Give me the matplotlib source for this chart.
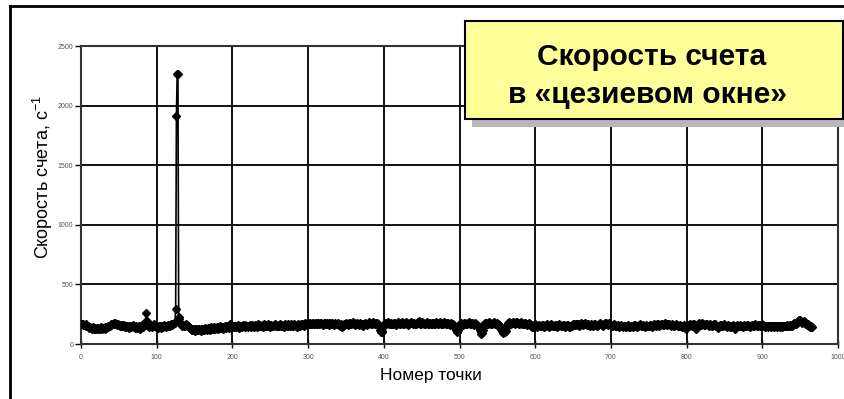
import numpy as np
import matplotlib
matplotlib.use("Agg")
import matplotlib.pyplot as plt
from matplotlib.patches import Rectangle
from matplotlib.lines import Line2D

plt.rcParams['font.family'] = ['Liberation Sans', 'DejaVu Sans']
plt.rcParams['mathtext.fontset'] = 'custom'
plt.rcParams['mathtext.rm'] = 'Liberation Sans'

title_lines = ["Скорость счета", "в «цезиевом окне»"]
x_label = "Номер точки"
y_label = "Скорость счета, с$^{\\mathregular{-1}}$"
x_ticks = [0, 100, 200, 300, 400, 500, 600, 700, 800, 900, 1000]
y_ticks = [0, 500, 1000, 1500, 2000, 2500]

count_rate = [
    165, 170, 160, 168, 158, 162, 170, 155, 150, 148,
    142, 138, 145, 132, 128, 135, 140, 126, 130, 136,
    128, 133, 125, 138, 130, 127, 135, 140, 129, 132,
    138, 130, 142, 136, 145, 140, 150, 148, 155, 160,
    165, 172, 168, 178, 170, 175, 168, 172, 160, 165,
    158, 162, 150, 155, 160, 148, 152, 158, 145, 150,
    142, 148, 155, 140, 138, 150, 145, 152, 160, 148,
    140, 135, 145, 150, 138, 142, 155, 148, 130, 140,
    150, 160, 145, 170, 175, 185, 262, 195, 158, 150,
    145, 155, 160, 148, 140, 152, 165, 158, 150, 145,
    150, 142, 138, 148, 155, 140, 135, 150, 145, 152,
    158, 148, 140, 150, 155, 160, 148, 152, 158, 165,
    160, 170, 165, 175, 180, 290, 1910, 2265, 2262, 225,
    210, 180, 165, 158, 150, 160, 155, 148, 162, 170,
    158, 150, 145, 140, 135, 128, 120, 115, 125, 118,
    110, 122, 128, 115, 120, 130, 125, 118, 112, 125,
    130, 120, 115, 128, 135, 122, 118, 130, 138, 125,
    120, 132, 140, 128, 135, 142, 130, 125, 138, 145,
    135, 128, 140, 150, 138, 132, 145, 140, 130, 142,
    148, 135, 140, 152, 145, 138, 150, 170, 155, 145,
    140, 150, 145, 155, 148, 140, 152, 158, 145, 138,
    150, 155, 148, 142, 158, 150, 145, 160, 152, 148,
    140, 155, 150, 160, 145, 152, 158, 148, 140, 155,
    162, 150, 145, 158, 165, 150, 148, 160, 155, 150,
    145, 158, 165, 152, 148, 160, 155, 168, 150, 145,
    158, 162, 150, 155, 148, 160, 170, 158, 150, 155,
    148, 152, 160, 165, 155, 148, 158, 150, 145, 160,
    165, 158, 150, 155, 170, 162, 150, 158, 165, 155,
    150, 160, 165, 158, 150, 145, 155, 168, 160, 152,
    158, 165, 170, 162, 155, 168, 175, 165, 160, 170,
    175, 168, 172, 180, 170, 165, 175, 178, 168, 172,
    180, 175, 170, 178, 165, 172, 180, 175, 168, 160,
    170, 178, 175, 165, 172, 180, 170, 162, 175, 178,
    170, 165, 175, 168, 160, 172, 178, 165, 170, 175,
    168, 160, 155, 165, 150, 140, 148, 158, 165, 172,
    178, 170, 165, 160, 175, 180, 172, 168, 175, 182,
    175, 168, 160, 170, 178, 172, 165, 158, 170, 175,
    168, 160, 155, 165, 172, 178, 170, 165, 160, 168,
    175, 185, 178, 170, 165, 180, 188, 175, 168, 172,
    180, 175, 165, 160, 150, 120, 105, 98, 112, 140,
    160, 170, 175, 168, 178, 185, 175, 170, 165, 178,
    172, 165, 170, 180, 175, 168, 160, 170, 178, 182,
    175, 168, 172, 180, 185, 175, 170, 165, 178, 182,
    175, 168, 160, 172, 180, 175, 185, 178, 170, 175,
    180, 172, 165, 170, 178, 185, 190, 180, 172, 168,
    175, 182, 178, 170, 165, 172, 180, 185, 175, 168,
    172, 178, 170, 165, 175, 180, 172, 168, 175, 185,
    180, 172, 168, 175, 182, 178, 170, 165, 172, 178,
    185, 178, 170, 165, 175, 180, 172, 160, 168, 175,
    170, 165, 158, 150, 140, 128, 115, 105, 120, 150,
    165, 172, 178, 170, 160, 168, 175, 180, 172, 165,
    170, 178, 182, 175, 168, 172, 180, 175, 165, 160,
    168, 175, 170, 162, 155, 150, 140, 120, 100, 88,
    92, 120, 150, 165, 175, 180, 172, 168, 175, 182,
    178, 170, 165, 172, 180, 185, 178, 170, 165, 172,
    178, 170, 160, 150, 138, 125, 110, 100, 95, 105,
    98, 110, 135, 160, 175, 182, 178, 170, 165, 175,
    180, 185, 178, 170, 175, 182, 188, 180, 172, 168,
    175, 182, 178, 170, 165, 172, 180, 175, 168, 160,
    165, 172, 178, 170, 160, 150, 145, 140, 148, 158,
    165, 158, 150, 145, 155, 160, 152, 148, 155, 162,
    158, 150, 145, 152, 160, 165, 158, 150, 145, 155,
    162, 168, 160, 152, 148, 155, 162, 158, 150, 145,
    150, 158, 165, 160, 152, 148, 155, 162, 158, 150,
    145, 152, 160, 158, 150, 145, 140, 148, 155, 160,
    165, 170, 162, 158, 165, 172, 168, 160, 155, 162,
    170, 175, 168, 160, 165, 172, 178, 170, 162, 158,
    165, 160, 155, 162, 168, 160, 152, 158, 165, 170,
    162, 155, 150, 158, 165, 170, 175, 168, 160, 155,
    162, 168, 175, 180, 172, 165, 160, 168, 175, 170,
    162, 155, 150, 158, 165, 160, 152, 148, 155, 160,
    152, 145, 150, 158, 155, 148, 142, 150, 155, 148,
    145, 152, 158, 150, 145, 140, 148, 155, 150, 145,
    152, 158, 162, 155, 150, 145, 150, 158, 165, 158,
    150, 148, 155, 160, 152, 145, 150, 158, 152, 148,
    155, 162, 158, 150, 145, 152, 160, 165, 158, 150,
    158, 165, 170, 162, 155, 160, 168, 172, 165, 158,
    162, 170, 175, 168, 160, 165, 172, 168, 160, 155,
    162, 168, 160, 155, 150, 158, 165, 160, 152, 148,
    155, 160, 152, 148, 145, 152, 158, 150, 140, 130,
    150, 158, 162, 155, 160, 165, 158, 152, 160, 165,
    170, 158, 125, 150, 162, 168, 175, 165, 158, 162,
    168, 175, 170, 162, 158, 165, 172, 168, 160, 155,
    162, 168, 160, 155, 150, 158, 165, 170, 162, 155,
    150, 145, 138, 150, 158, 162, 155, 148, 152, 160,
    165, 158, 150, 145, 152, 160, 155, 148, 140, 145,
    152, 158, 150, 140, 130, 145, 155, 160, 152, 148,
    155, 160, 152, 148, 145, 150, 158, 155, 148, 150,
    158, 162, 155, 150, 145, 152, 160, 158, 150, 155,
    160, 165, 158, 150, 155, 162, 158, 150, 152, 160,
    165, 158, 150, 145, 150, 155, 148, 142, 150, 155,
    148, 145, 150, 155, 148, 142, 150, 155, 148, 145,
    150, 155, 148, 145, 152, 150, 145, 148, 152, 155,
    150, 148, 155, 160, 152, 150, 158, 162, 155, 152,
    160, 168, 175, 170, 165, 172, 180, 190, 198, 205,
    200, 192, 185, 178, 185, 192, 188, 175, 168, 160,
    165, 158, 150, 145, 150, 142, 140,
]
point_number = np.arange(len(count_rate))

fig = plt.figure(figsize=(8.45, 3.99), dpi=100)
ax = fig.add_axes([0.0959, 0.1378, 0.8958, 0.7469])

ax.plot(point_number, count_rate, color='black', linewidth=1.2,
        marker='D', markersize=4.3, markerfacecolor='black',
        markeredgecolor='black', zorder=3)

ax.set_xlim(0, 1000)
ax.set_ylim(0, 2500)
ax.set_xticks(x_ticks)
ax.set_yticks(y_ticks)
ax.grid(True, color='#111111', linewidth=1.4)
ax.set_axisbelow(True)
for s in ax.spines.values():
    s.set_color('#333333')
    s.set_linewidth(1.5)
ax.tick_params(axis='y', direction='out', length=4, width=1, labelsize=5,
               labelcolor='#555555', pad=1.5)
ax.tick_params(axis='x', direction='inout', length=6, width=1, labelsize=5,
               labelcolor='#555555', pad=4)

ax.set_xlabel(x_label, fontsize=12.5)
ax.xaxis.set_label_coords(0.462, -0.079)
ax.set_ylabel(y_label, fontsize=13)
ax.yaxis.set_label_coords(-0.034, 0.56)

# outer frame
fig.add_artist(Line2D([10/845, 10/845], [0, 1-6/399], transform=fig.transFigure,
                      color='black', linewidth=2))
fig.add_artist(Line2D([10/845, 1], [1-6/399, 1-6/399], transform=fig.transFigure,
                      color='black', linewidth=2))

# title box with shadow
bw, bh = 378/845, 98/399
fig.add_artist(Rectangle((472/845, (399-127)/399), bw, bh, transform=fig.transFigure,
                         facecolor='#b8b8b8', edgecolor='none', zorder=5))
fig.add_artist(Rectangle((465/845, (399-119)/399), bw, bh, transform=fig.transFigure,
                         facecolor='#ffff99', edgecolor='black', linewidth=1.5, zorder=6))
fig.text(652/845, 1-65/399, title_lines[0], ha='center', va='baseline',
         fontsize=21.5, fontweight='bold', zorder=7)
fig.text(647/845, 1-103/399, title_lines[1], ha='center', va='baseline',
         fontsize=21.5, fontweight='bold', zorder=7)

fig.savefig("out.png", dpi=100)
